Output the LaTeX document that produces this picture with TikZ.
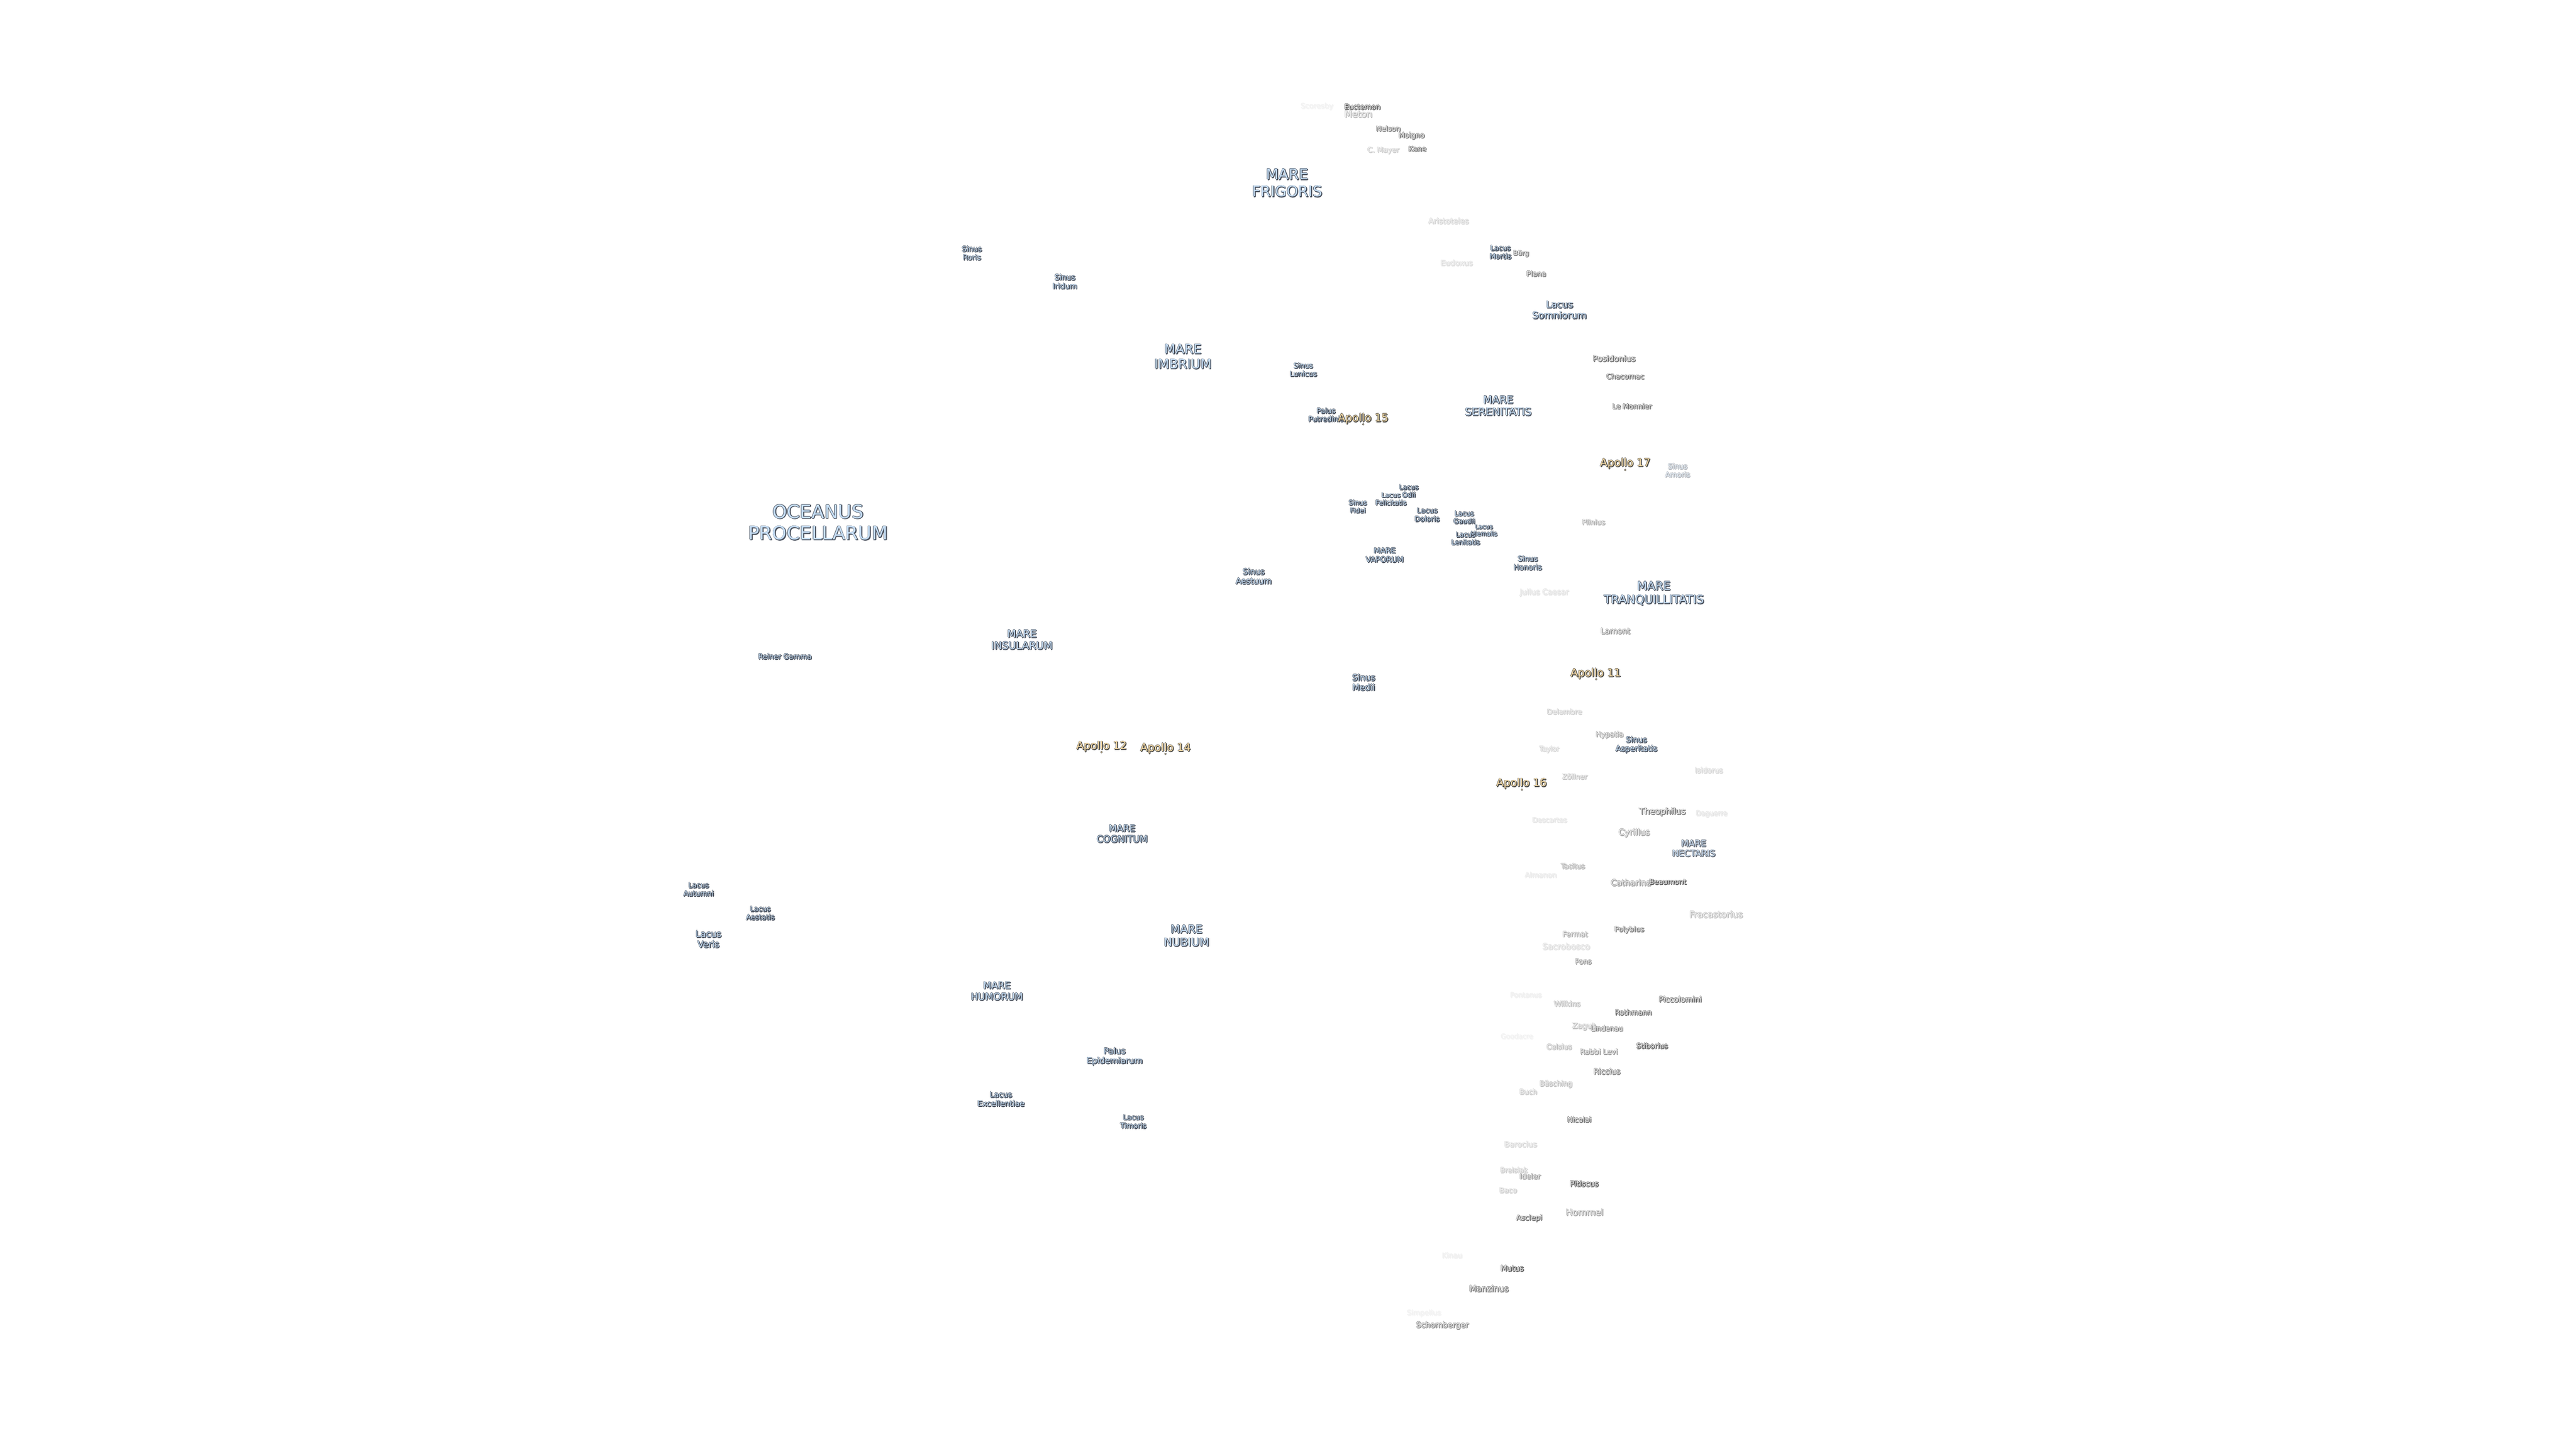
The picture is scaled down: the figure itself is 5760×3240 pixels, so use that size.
\documentclass[tikz,border=0pt]{standalone}
\usepackage{fontspec}
\setmainfont{DejaVu Sans}
\definecolor{SeaTint}{HTML}{C6DEF5}
\definecolor{SeaEdge}{HTML}{474E5A}
\definecolor{SiteTint}{HTML}{F8DCA6}
\definecolor{SiteEdge}{HTML}{4A4A48}

\newcommand\haloat[2]{\rlap{\kern#1pt\raisebox{#2pt}{\color{halo}\labtext}}}
\newcommand\lab[1]{%
	\renewcommand\arraystretch{1.16}%
	\def\labtext{\begin{tabular}{@{}c@{}}#1\end{tabular}}%
	\leavevmode\haloat{-.8}{0}\haloat{0}{.8}\haloat{1.6}{-1.6}\haloat{2.2}{-1}\haloat{1}{-2.2}%
	{\color{tint}\labtext}%
}

\begin{document}
\begin{tikzpicture} [
			x=1pt,y=-1pt,
			every node/.style={inner sep=0pt,outer sep=0pt},
			size/.style={font=\fontsize{#1}{#1}\selectfont,yshift={-0.17*#1pt}},
			sea/.style={size=#1,/utils/exec={\colorlet{tint}{SeaTint}\colorlet{halo}{SeaEdge}}},
			dim/.code={\colorlet{halo}{halo!#1!white}\colorlet{tint}{tint!#1!white}},
			apollo/.style={size=24,/utils/exec={\colorlet{tint}{SiteTint}\colorlet{halo}{SiteEdge}}},
			crater/.style 2 args={size=#1,/utils/exec={\pgfmathsetmacro\shade{#2*(1.35-.0075*#2)}\colorlet{tint}{black!5}\colorlet{halo}{black!\shade}}},
			site/.style={circle,fill=SiteTint,draw=SiteEdge,line width=.8pt,minimum size=4pt}
		]
		\useasboundingbox (0,0) rectangle (5760,3240);

		% seas
		\node [sea=41.5] (procellarum) at (1829,1167) {\lab{OCEANUS\\PROCELLARUM}};
		\node [sea=33] (frigoris) at (2878,408) {\lab{MARE\\FRIGORIS}};
		\node [sea=29] (imbrium) at (2645,797) {\lab{MARE\\IMBRIUM}};
		\node [sea=23.5] (serenitatis) at (3350,907) {\lab{MARE\\SERENITATIS}};
		\node [sea=26] (tranquillitatis) at (3698,1325) {\lab{MARE\\TRANQUILLITATIS}};
		\node [sea=17] (vaporum) at (3096,1241) {\lab{MARE\\VAPORUM}};
		\node [sea=23] (insularum) at (2285,1430) {\lab{MARE\\INSULARUM}};
		\node [sea=19.6,dim=85] (nectaris) at (3787,1897) {\lab{MARE\\NECTARIS}};
		\node [sea=20.7] (cognitum) at (2509,1864) {\lab{MARE\\COGNITUM}};
		\node [sea=25] (nubium) at (2653,2092) {\lab{MARE\\NUBIUM}};
		\node [sea=21.5] (humorum) at (2229,2216) {\lab{MARE\\HUMORUM}};

		% lakes, bays, marshes
		\node [sea=21] (somniorum) at (3487,693) {\lab{Lacus\\Somniorum}};
		\node [sea=15.8] (mortis) at (3355,564) {\lab{Lacus\\Mortis}};
		\node [sea=16] (lunicus) at (2914,827) {\lab{Sinus\\Lunicus}};
		\node [sea=16] (putredinis) at (2965,928) {\lab{Palus\\Putredinis}};
		\node [sea=15] (odii) at (3150,1098) {\lab{Lacus\\Odii}};
		\node [sea=14.7] (felicitatis) at (3110,1116) {\lab{Lacus\\Felicitatis}};
		\node [sea=15] (fidei) at (3036,1133) {\lab{Sinus\\Fidei}};
		\node [sea=16] (doloris) at (3191,1151) {\lab{Lacus\\Doloris}};
		\node [sea=15] (gaudii) at (3274,1157) {\lab{Lacus\\Gaudii}};
		\node [sea=13.7] (hiemalis) at (3318,1186) {\lab{Lacus\\Hiemalis}};
		\node [sea=15] (lenitatis) at (3277,1204) {\lab{Lacus\\Lenitatis}};
		\node [sea=16.4] (honoris) at (3416,1259) {\lab{Sinus\\Honoris}};
		\node [sea=16,dim=40] (amoris) at (3751,1052) {\lab{Sinus\\Amoris}};
		\node [sea=18] (aestuum) at (2803,1289) {\lab{Sinus\\Aestuum}};
		\node [sea=19] (medii) at (3049,1526) {\lab{Sinus\\Medii}};
		\node [sea=17.4] (asperitatis) at (3659,1664) {\lab{Sinus\\Asperitatis}};
		\node [sea=16.4] (roris) at (2173,566) {\lab{Sinus\\Roris}};
		\node [sea=17] (iridum) at (2381,630) {\lab{Sinus\\Iridum}};
		\node [sea=16] (reiner) at (1755,1468) {\lab{Reiner Gamma}};
		\node [sea=16] (autumni) at (1562,1989) {\lab{Lacus\\Autumni}};
		\node [sea=16] (aestatis) at (1700,2042) {\lab{Lacus\\Aestatis}};
		\node [sea=20] (veris) at (1584,2100) {\lab{Lacus\\Veris}};
		\node [sea=18.7] (epidemiarum) at (2492,2361) {\lab{Palus\\Epidemiarum}};
		\node [sea=17.3] (excellentiae) at (2238,2458) {\lab{Lacus\\Excellentiae}};
		\node [sea=16] (timoris) at (2534,2508) {\lab{Lacus\\Timoris}};

		% landing sites
		\node [apollo] (apollo11) at (3568,1504) {\lab{Apollo 11}};
		\node [apollo] (apollo12) at (2463,1667) {\lab{Apollo 12}};
		\node [apollo] (apollo14) at (2606,1671) {\lab{Apollo 14}};
		\node [apollo] (apollo15) at (3048,934) {\lab{Apollo 15}};
		\node [apollo] (apollo16) at (3402,1750) {\lab{Apollo 16}};
		\node [apollo] (apollo17) at (3634,1034) {\lab{Apollo 17}};
		\node [site] (site11) at (3569,1519) {};
		\node [site] (site12) at (2463,1682) {};
		\node [site] (site14) at (2606,1686) {};
		\node [site] (site15) at (3048,949) {};
		\node [site] (site16) at (3403,1766) {};
		\node [site] (site17) at (3634,1051) {};

		% craters
		\node [crater={16}{3}] (scoresby) at (2945,237) {\lab{Scoresby}};
		\node [crater={20}{22}] (meton) at (3037,255) {\lab{Meton}};
		\node [crater={16}{80}] (euctemon) at (3046,239) {\lab{Euctemon}};
		\node [crater={16}{50}] (nelson) at (3104,288) {\lab{Nelson}};
		\node [crater={16}{55}] (moigno) at (3156,302) {\lab{Moigno}};
		\node [crater={16}{15}] (mayer) at (3093,335) {\lab{C. Mayer}};
		\node [crater={16}{60}] (kane) at (3169,333) {\lab{Kane}};
		\node [crater={17}{12}] (aristoteles) at (3239,494) {\lab{Aristoteles}};
		\node [crater={17}{10}] (eudoxus) at (3257,588) {\lab{Eudoxus}};
		\node [crater={15}{45}] (burg) at (3401,566) {\lab{Bürg}};
		\node [crater={16}{50}] (plana) at (3435,612) {\lab{Plana}};
		\node [crater={18}{60}] (posidonius) at (3609,802) {\lab{Posidonius}};
		\node [crater={16}{60}] (chacornac) at (3634,842) {\lab{Chacornac}};
		\node [crater={16}{60}] (monnier) at (3649,909) {\lab{Le Monnier}};
		\node [crater={16}{25}] (plinius) at (3563,1168) {\lab{Plinius}};
		\node [crater={17}{8}] (caesar) at (3453,1324) {\lab{Julius Caesar}};
		\node [crater={17.5}{35}] (lamont) at (3612,1411) {\lab{Lamont}};
		\node [crater={16}{15}] (delambre) at (3498,1592) {\lab{Delambre}};
		\node [crater={16}{30}] (hypatia) at (3599,1642) {\lab{Hypatia}};
		\node [crater={15}{12}] (taylor) at (3464,1675) {\lab{Taylor}};
		\node [crater={16}{18}] (zollner) at (3521,1737) {\lab{Zöllner}};
		\node [crater={16}{12}] (isidorus) at (3821,1723) {\lab{Isidorus}};
		\node [crater={19}{55}] (theophilus) at (3717,1814) {\lab{Theophilus}};
		\node [crater={15}{8}] (daguerre) at (3827,1819) {\lab{Daguerre}};
		\node [crater={15.5}{8}] (descartes) at (3465,1834) {\lab{Descartes}};
		\node [crater={19}{30}] (cyrillus) at (3654,1861) {\lab{Cyrillus}};
		\node [crater={15.5}{25}] (tacitus) at (3517,1937) {\lab{Tacitus}};
		\node [crater={16}{6}] (almanon) at (3445,1957) {\lab{Almanon}};
		\node [crater={18.5}{35}] (catharina) at (3647,1974) {\lab{Catharina}};
		\node [crater={16}{80}] (beaumont) at (3729,1972) {\lab{Beaumont}};
		\node [crater={19.7}{20}] (fracastorius) at (3837,2045) {\lab{Fracastorius}};
		\node [crater={16}{50}] (polybius) at (3643,2078) {\lab{Polybius}};
		\node [crater={16}{25}] (fermat) at (3522,2089) {\lab{Fermat}};
		\node [crater={18.5}{10}] (sacrobosco) at (3502,2117) {\lab{Sacrobosco}};
		\node [crater={15.7}{35}] (pons) at (3540,2150) {\lab{Pons}};
		\node [crater={15.3}{4}] (pontanus) at (3412,2225) {\lab{Pontanus}};
		\node [crater={16.7}{20}] (wilkins) at (3504,2245) {\lab{Wilkins}};
		\node [crater={17}{65}] (piccolomini) at (3757,2235) {\lab{Piccolomini}};
		\node [crater={16}{60}] (rothmann) at (3652,2264) {\lab{Rothmann}};
		\node [crater={17.5}{20}] (zagut) at (3541,2294) {\lab{Zagut}};
		\node [crater={15.6}{45}] (lindenau) at (3593,2300) {\lab{Lindenau}};
		\node [crater={15}{3}] (goodacre) at (3392,2318) {\lab{Goodacre}};
		\node [crater={16}{20}] (celsius) at (3486,2341) {\lab{Celsius}};
		\node [crater={16.3}{35}] (levi) at (3575,2352) {\lab{Rabbi Levi}};
		\node [crater={16}{75}] (stiborius) at (3694,2339) {\lab{Stiborius}};
		\node [crater={17}{45}] (riccius) at (3593,2396) {\lab{Riccius}};
		\node [crater={16}{20}] (busching) at (3479,2423) {\lab{Büsching}};
		\node [crater={15.7}{15}] (buch) at (3417,2442) {\lab{Buch}};
		\node [crater={16}{60}] (nicolai) at (3531,2504) {\lab{Nicolai}};
		\node [crater={17}{12}] (barocius) at (3400,2559) {\lab{Barocius}};
		\node [crater={15.5}{15}] (breislak) at (3385,2617) {\lab{Breislak}};
		\node [crater={16.5}{35}] (ideler) at (3421,2631) {\lab{Ideler}};
		\node [crater={16}{15}] (baco) at (3372,2662) {\lab{Baco}};
		\node [crater={17}{80}] (pitiscus) at (3542,2647) {\lab{Pitiscus}};
		\node [crater={20}{30}] (hommel) at (3543,2711) {\lab{Hommel}};
		\node [crater={16.3}{60}] (asclepi) at (3419,2723) {\lab{Asclepi}};
		\node [crater={16}{4}] (kinau) at (3247,2808) {\lab{Kinau}};
		\node [crater={17}{80}] (mutus) at (3381,2836) {\lab{Mutus}};
		\node [crater={18.7}{50}] (manzinus) at (3329,2882) {\lab{Manzinus}};
		\node [crater={15.7}{3}] (simpelius) at (3184,2936) {\lab{Simpelius}};
		\node [crater={17.5}{45}] (schomberger) at (3225,2963) {\lab{Schomberger}};
	\end{tikzpicture}
\end{document}
